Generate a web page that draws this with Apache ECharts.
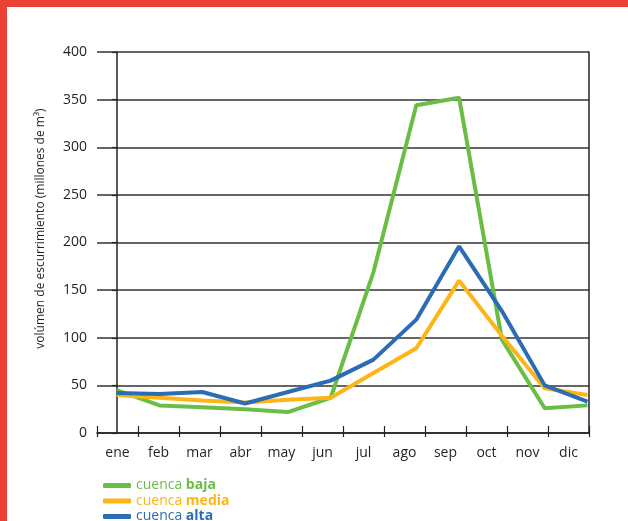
<!DOCTYPE html>
<html><head><meta charset="utf-8">
<script src="https://cdn.jsdelivr.net/npm/echarts@6/dist/echarts.min.js"></script>
<style>html,body{margin:0;padding:0;background:#fff}#c{width:628px;height:521px}</style>
</head><body><div id="c"></div>
<script>
const months = ['ene','feb','mar','abr','may','jun','jul','ago','sep','oct','nov','dic'];
const yMin = 0, yMax = 400, yStep = 50;
const seriesNames = ['cuenca baja','cuenca media','cuenca alta'];
const baja  = [45, 29, 27, 25, 22, 37, 169, 344, 352, 98, 26, 29];
const media = [40, 37, 34, 32, 35, 37, 63, 89, 160, 102, 47, 40];
const alta  = [42, 41, 43, 31, 43, 55, 77, 119, 196, 128, 50, 33];

const colors = ['#6BBE45', '#FDB515', '#2B6CB5'];
const FONT = 'Open Sans';
const toPts = arr => arr.map((v, i) => [i, v]);

const legendTops = [478, 493.5, 509];
const legends = seriesNames.map((name, i) => ({
  orient: 'vertical', left: 103, top: legendTops[i],
  icon: 'roundRect', itemWidth: 28, itemHeight: 5, itemGap: 0, padding: 0,
  data: [name],
  formatter: n => {
    const parts = n.split(' ');
    return '{n|' + parts[0] + ' }{b|' + parts[1] + '}';
  },
  textStyle: {
    fontFamily: FONT, fontSize: 14, lineHeight: 15,
    rich: {
      n: {color: colors[i], fontFamily: FONT, fontSize: 14},
      b: {color: colors[i], fontFamily: FONT, fontSize: 14, fontWeight: 'bold'}
    }
  }
}));

const chart = echarts.init(document.getElementById('c'), null, {renderer: 'canvas'});
chart.setOption({
  animation: false,
  backgroundColor: '#fff',
  graphic: [
    {type: 'rect', left: 0, top: 0, shape: {width: 7, height: 521}, style: {fill: '#EC4236'}},
    {type: 'rect', left: 0, top: 0, shape: {width: 628, height: 7}, style: {fill: '#EC4236'}}
  ],
  grid: {left: 97, top: 52, width: 492, height: 381, containLabel: false},
  xAxis: [
    {
      type: 'category', data: months, boundaryGap: true,
      axisLine: {lineStyle: {color: '#222', width: 1.5}},
      axisTick: {show: true, inside: true, length: 7, interval: 0, lineStyle: {color: '#222', width: 1.2}},
      axisLabel: {interval: 0, color: '#231f20', fontFamily: FONT, fontSize: 14, margin: 13},
      splitLine: {show: false}
    },
    {
      type: 'category', data: months, boundaryGap: true, position: 'bottom',
      axisLine: {show: false},
      axisTick: {show: true, inside: false, length: 4, interval: 0, lineStyle: {color: '#222', width: 1.2}},
      axisLabel: {show: false}, splitLine: {show: false}
    },
    {
      type: 'value', min: -0.46, max: 11.035, show: false, position: 'bottom',
      splitLine: {show: false}
    }
  ],
  yAxis: [
    {
      type: 'value', min: yMin, max: yMax, interval: yStep,
      name: 'volúmen de escurrimiento (millones de m³)',
      nameLocation: 'middle', nameGap: 50,
      nameTextStyle: {color: '#231f20', fontFamily: FONT, fontSize: 12, padding: [0, 0, 0, 28]},
      axisLine: {show: true, lineStyle: {color: '#222', width: 1.5}},
      axisTick: {show: true, length: 5, lineStyle: {color: '#222', width: 1.2}},
      axisLabel: {color: '#231f20', fontFamily: FONT, fontSize: 14, margin: 10},
      splitLine: {show: true, lineStyle: {color: '#333', width: 1.6}}
    },
    {
      type: 'value', min: yMin, max: yMax, interval: yStep, position: 'right',
      axisLine: {show: true, lineStyle: {color: '#222', width: 1.5}},
      axisTick: {show: false}, axisLabel: {show: false}, splitLine: {show: false}
    }
  ],
  legend: legends,
  series: [
    {name: seriesNames[0], type: 'line', xAxisIndex: 2, data: toPts(baja), showSymbol: false, color: colors[0], lineStyle: {width: 4, color: colors[0]}, z: 2},
    {name: seriesNames[1], type: 'line', xAxisIndex: 2, data: toPts(media), showSymbol: false, color: colors[1], lineStyle: {width: 4, color: colors[1]}, z: 3},
    {name: seriesNames[2], type: 'line', xAxisIndex: 2, data: toPts(alta), showSymbol: false, color: colors[2], lineStyle: {width: 4, color: colors[2]}, z: 4}
  ]
});
</script></body></html>
